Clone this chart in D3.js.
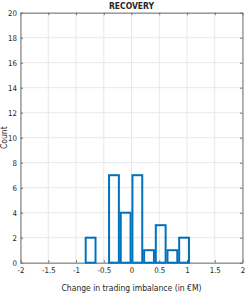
<!DOCTYPE html>
<html>
<head>
<meta charset="utf-8">
<script src="https://cdn.jsdelivr.net/npm/d3@7"></script>
<style>
  body { margin: 0; background: #fff; }
  svg text { font-family: "Liberation Sans Narrow", "Arial Narrow", "DejaVu Sans Condensed", sans-serif; fill: #262626; }
</style>
</head>
<body>
<div id="chart"></div>
<script>
// Histogram of trading imbalance change, recovery phase
const binCenters = d3.range(20).map(j => -2 + j * 4 / 19);
const counts = [0, 0, 0, 0, 0, 0, 2, 0, 7, 4, 7, 1, 3, 1, 2, 0, 0, 0, 0, 0];
const xTicks = [-2, -1.5, -1, -0.5, 0, 0.5, 1, 1.5, 2];
const yTicks = [0, 2, 4, 6, 8, 10, 12, 14, 16, 18, 20];

const W = 246, H = 294;
const m = { left: 20.5, right: 3.5, top: 12.7, bottom: 31.3 };

const svg = d3.select('#chart').append('svg')
  .attr('width', W).attr('height', H);

const x = d3.scaleLinear().domain([-2, 2]).range([m.left, W - m.right]);
const y = d3.scaleLinear().domain([0, 20]).range([H - m.bottom, m.top]);

// grid
const grid = svg.append('g');
grid.selectAll('line.gx').data(xTicks).join('line')
  .attr('x1', d => x(d)).attr('x2', d => x(d))
  .attr('y1', y(0)).attr('y2', y(20))
  .attr('stroke', '#e8e8e8').attr('stroke-width', 1);
grid.selectAll('line.gy').data(yTicks).join('line')
  .attr('x1', x(-2)).attr('x2', x(2))
  .attr('y1', d => y(d)).attr('y2', d => y(d))
  .attr('stroke', '#e8e8e8').attr('stroke-width', 1);

// axes with inward ticks
const axisStyle = g => {
  g.select('.domain').attr('stroke', '#707070').attr('stroke-width', 1);
  g.selectAll('.tick line').attr('stroke', '#707070');
  g.selectAll('.tick text').attr('font-size', 7.8).attr('fill', '#262626');
};
svg.append('g').attr('transform', `translate(0,${y(0)})`)
  .call(d3.axisBottom(x).tickValues(xTicks).tickSize(-2.5).tickSizeOuter(0).tickPadding(5)
    .tickFormat(d => String(d)))
  .call(axisStyle);
svg.append('g').attr('transform', `translate(0,${y(20)})`)
  .call(d3.axisTop(x).tickValues(xTicks).tickSize(-2.5).tickSizeOuter(0).tickFormat(''))
  .call(axisStyle);
svg.append('g').attr('transform', `translate(${x(-2)},0)`)
  .call(d3.axisLeft(y).tickValues(yTicks).tickSize(-2.5).tickSizeOuter(0).tickPadding(3.5))
  .call(axisStyle);
svg.append('g').attr('transform', `translate(${x(2)},0)`)
  .call(d3.axisRight(y).tickValues(yTicks).tickSize(-2.5).tickSizeOuter(0).tickFormat(''))
  .call(axisStyle);

// bars
const pitch = x(4 / 19) - x(0);
const bw = pitch * 0.84;
svg.append('defs').append('clipPath').attr('id', 'clip')
  .append('rect').attr('x', x(-2)).attr('y', y(20))
  .attr('width', x(2) - x(-2)).attr('height', y(0) - y(20) + 2);

svg.append('g').attr('clip-path', 'url(#clip)')
  .selectAll('rect').data(binCenters).join('rect')
  .attr('x', d => x(d) - bw / 2)
  .attr('width', bw)
  .attr('y', (d, i) => y(counts[i]))
  .attr('height', (d, i) => y(0) - y(counts[i]))
  .attr('fill', 'none')
  .attr('stroke', '#0072BD')
  .attr('stroke-width', 2);

// labels
svg.append('text').attr('x', (x(-2) + x(2)) / 2).attr('y', 9)
  .attr('text-anchor', 'middle').attr('font-size', 8.5).attr('font-weight', 'bold')
  .text('RECOVERY');
svg.append('text').attr('x', (x(-2) + x(2)) / 2).attr('y', 291)
  .attr('text-anchor', 'middle').attr('font-size', 8.5)
  .text('Change in trading imbalance (in €M)');
svg.append('text')
  .attr('transform', `translate(6.5,${(y(0) + y(20)) / 2}) rotate(-90)`)
  .attr('text-anchor', 'middle').attr('font-size', 8.5)
  .text('Count');
</script>
</body>
</html>
